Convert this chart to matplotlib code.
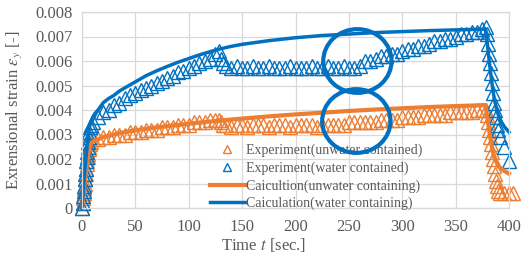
import numpy as np
import matplotlib
matplotlib.use('Agg')
from matplotlib import pyplot as plt
from matplotlib.patches import Ellipse

# time samples of the experiments
t_load = np.arange(0, 8.5, 0.5)
t_hold1 = list(range(10, 130, 5)) + [128]
t_drop1 = [130, 132]
t_hold2 = list(range(135, 265, 5))
t_rise2 = list(range(265, 380, 5)) + [378]
t_unload_water = list(range(379, 391)) + [392, 395, 400]
t_unload_unwater = list(range(379, 391)) + [392, 395, 400, 404]

# Experiment (water contained)
v_exp_water = [0, 0.0002, 0.0005, 0.0007, 0.0009, 0.0012, 0.0014, 0.0016, 0.0019, 0.0021, 0.0023, 0.0025, 0.0027, 0.0029, 0.0031, 0.0033, 0.0034,
               0.0035, 0.0037, 0.0039, 0.0040, 0.0042, 0.0043, 0.0045, 0.0046, 0.0047, 0.0048, 0.0049, 0.0050, 0.0051, 0.0052, 0.0053, 0.0054,
               0.00555, 0.0056, 0.0057, 0.0058, 0.0059, 0.0060, 0.0061, 0.0063, 0.0064,
               0.0061, 0.0059,
               0.0058, 0.0057, 0.0058, 0.0057, 0.0057, 0.0058, 0.0057, 0.0057, 0.0058, 0.0057, 0.0057, 0.0057, 0.0058, 0.0057, 0.0057, 0.0057,
               0.0058, 0.0057, 0.0057, 0.0058, 0.0057, 0.0057, 0.0058, 0.0057, 0.0057, 0.0058,
               0.0060, 0.0060, 0.0061, 0.0062, 0.0062, 0.0063, 0.0063, 0.0064, 0.0065, 0.0065, 0.0066, 0.0066, 0.0067, 0.0068, 0.0068, 0.0069,
               0.0069, 0.0070, 0.0071, 0.0071, 0.0072, 0.0072, 0.0073, 0.0074,
               0.0071, 0.0067, 0.0063, 0.0059, 0.0055, 0.0051, 0.0047, 0.0043, 0.0040, 0.0037, 0.0034, 0.0032, 0.0029, 0.0025, 0.0019]

# Experiment (unwater contained)
v_exp_unwater = [0, 0.0002, 0.0004, 0.0006, 0.0008, 0.0010, 0.0012, 0.0014, 0.0016, 0.0018, 0.0019, 0.0021, 0.0022, 0.0024, 0.0025, 0.0026, 0.0027,
                 0.0028, 0.0028, 0.0029, 0.0029, 0.0030, 0.0030, 0.0030, 0.0031, 0.0031, 0.0031, 0.0032, 0.0032, 0.0032, 0.0033, 0.0033, 0.0033,
                 0.0034, 0.0034, 0.0034, 0.0035, 0.0035, 0.0035, 0.0036, 0.0036, 0.0036,
                 0.0035, 0.0034,
                 0.0034, 0.0033, 0.0034, 0.0034, 0.0033, 0.0034, 0.0034, 0.0034, 0.0033, 0.0034, 0.0034, 0.0034, 0.0033, 0.0034, 0.0034, 0.0034,
                 0.0034, 0.0033, 0.0034, 0.0034, 0.0034, 0.0034, 0.0034, 0.0035, 0.0035, 0.0035,
                 0.0035, 0.0035, 0.0035, 0.0036, 0.0036, 0.0036, 0.0036, 0.0037, 0.0037, 0.0037, 0.0037, 0.0038, 0.0038, 0.0038, 0.0038, 0.0038,
                 0.0039, 0.0039, 0.0039, 0.0039, 0.0039, 0.0040, 0.0040, 0.0040,
                 0.0038, 0.0035, 0.0032, 0.0029, 0.0026, 0.0023, 0.0020, 0.0017, 0.0014, 0.0011, 0.0009, 0.0007, 0.0006, 0.0006, 0.0006, 0.0006]

# Calculations
t_calc = [0, 1, 2, 3, 4, 5, 6, 7, 8, 10, 12, 15, 20, 25, 30, 35, 40, 50, 60, 70, 80, 90, 100, 110, 120, 130, 140, 150,
          175, 200, 225, 250, 275, 300, 325, 350, 378, 380, 382, 384, 386, 388, 390, 393, 396, 400]
v_calc_water = [0, 0.0006, 0.0012, 0.0017, 0.0022, 0.0026, 0.0030, 0.0033, 0.0035, 0.0037, 0.00385, 0.0040, 0.0043, 0.00447, 0.0046,
                0.00477, 0.0049, 0.00515, 0.0054, 0.0056, 0.00578, 0.00595, 0.0061, 0.00625, 0.00638, 0.0065, 0.0066, 0.00668,
                0.00683, 0.00695, 0.00704, 0.0071, 0.00716, 0.0072, 0.00724, 0.00727,
                0.0073, 0.0066, 0.0058, 0.0051, 0.0045, 0.0041, 0.0038, 0.0035, 0.0033, 0.0031]
v_calc_unwater = [0, 0.0004, 0.0008, 0.0012, 0.0016, 0.0019, 0.0022, 0.0024, 0.0026, 0.0027, 0.00275, 0.0028, 0.0029, 0.00295, 0.0030,
                  0.00305, 0.0031, 0.00317, 0.00323, 0.00329, 0.00334, 0.00339, 0.00344, 0.00349, 0.00353, 0.00357, 0.00361, 0.00365,
                  0.00374, 0.00382, 0.00389, 0.00396, 0.00402, 0.00407, 0.00412, 0.00416,
                  0.0042, 0.0036, 0.0030, 0.0025, 0.0021, 0.0019, 0.0017, 0.0016, 0.0015, 0.0014]

labels = ['Experiment(unwater contained)', 'Experiment(water contained)',
          'Caicultion(unwater containing)', 'Caiculation(water containing)']
y_ticks = [0, 0.001, 0.002, 0.003, 0.004, 0.005, 0.006, 0.007, 0.008]
y_ticklabels = ['0', '0.001', '0.002', '0.003', '0.004', '0.005', '0.006', '0.007', '0.008']
x_ticks = [0, 50, 100, 150, 200, 250, 300, 350, 400]

# highlight circles (centre time, centre strain)
circle_t = [258, 257]
circle_v = [0.0060, 0.00355]

orange = '#ED7D31'
blue = '#0070C0'
gray = '#595959'

plt.rcParams['font.family'] = ['Liberation Serif', 'DejaVu Serif']
plt.rcParams['mathtext.fontset'] = 'stix'

t_exp_water = np.concatenate([t_load, t_hold1, t_drop1, t_hold2, t_rise2, t_unload_water])
t_exp_unwater = np.concatenate([t_load, t_hold1, t_drop1, t_hold2, t_rise2, t_unload_unwater])

fig = plt.figure(figsize=(5.23, 2.54), dpi=100)
ax = fig.add_axes([82 / 523, 1 - 208 / 254, 427 / 523, 196 / 254])

ax.plot(t_exp_unwater, v_exp_unwater, linestyle='none', marker='^', markersize=9.5,
        markerfacecolor='none', markeredgecolor=orange, markeredgewidth=1, clip_on=False, label=labels[0])
ax.plot(t_exp_water, v_exp_water, linestyle='none', marker='^', markersize=9.5,
        markerfacecolor='none', markeredgecolor=blue, markeredgewidth=1, clip_on=False, label=labels[1])
ax.plot(t_calc, v_calc_unwater, color=orange, linewidth=3, clip_on=False, label=labels[2])
ax.plot(t_calc, v_calc_water, color=blue, linewidth=2.5, clip_on=False, label=labels[3])

for ct, cv in zip(circle_t, circle_v):
    ax.add_patch(Ellipse((ct, cv), 64, 0.0026, fill=False, edgecolor=blue, linewidth=3, zorder=10, clip_on=False))

ax.set_xlim(0, 400)
ax.set_ylim(0, 0.008)
ax.set_xticks(x_ticks)
ax.set_yticks(y_ticks)
ax.set_yticklabels(y_ticklabels)
ax.tick_params(length=0, labelsize=12, labelcolor=gray)
ax.tick_params(axis='y', pad=7)
ax.tick_params(axis='x', pad=8)
ax.grid(color='#D9D9D9', linewidth=0.9)
ax.set_axisbelow(True)
for s in ax.spines.values():
    s.set_color('#D9D9D9')
    s.set_linewidth(0.9)

ax.set_xlabel(r'Time $t$ [sec.]', fontsize=12, color=gray)
ax.xaxis.set_label_coords(0.426, -0.145)
ax.set_ylabel(r'Exrensional strain $\varepsilon_y$ [-]', fontsize=12, color=gray)
ax.yaxis.set_label_coords(-0.137, 0.5)

leg = ax.legend(loc='upper left', bbox_to_anchor=(203 / 523, 1 - 137 / 254), bbox_transform=fig.transFigure,
                frameon=False, fontsize=10, handlelength=2.5, handletextpad=0.1, labelspacing=0.3,
                markerscale=0.6, borderpad=0)
for txt in leg.get_texts():
    txt.set_color(gray)

fig.savefig('out.png', dpi=100)
